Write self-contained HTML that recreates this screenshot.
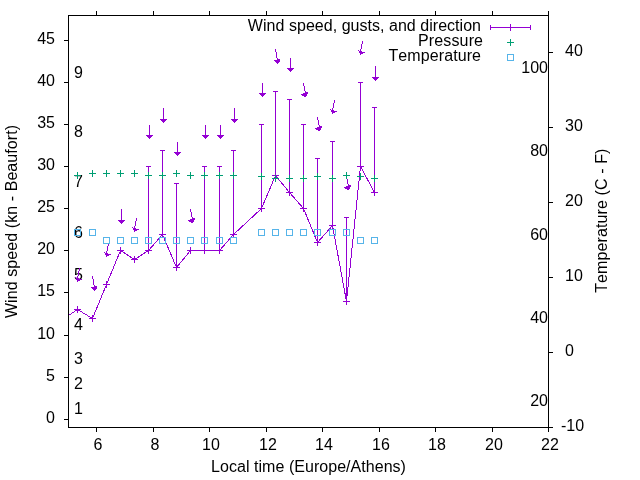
<!DOCTYPE html>
<html><head><meta charset="utf-8"><style>
html,body{margin:0;padding:0;background:#fff;overflow:hidden;}
svg{display:block;will-change:transform;}
text{font-family:"Liberation Sans",sans-serif;font-size:16px;fill:#000;font-kerning:none;}
</style></head><body>
<svg width="640" height="480" viewBox="0 0 640 480" shape-rendering="crispEdges">
<rect width="640" height="480" fill="#fff"/>
<defs><clipPath id="pa"><rect x="68" y="15" width="481" height="413"/></clipPath></defs>
<g><text x="55" y="422.5" text-anchor="end" >0</text><text x="55" y="380.5" text-anchor="end" >5</text><text x="55" y="338.5" text-anchor="end" >10</text><text x="55" y="295.5" text-anchor="end" >15</text><text x="55" y="253.5" text-anchor="end" >20</text><text x="55" y="211.5" text-anchor="end" >25</text><text x="55" y="169.5" text-anchor="end" >30</text><text x="55" y="127.5" text-anchor="end" >35</text><text x="55" y="85.5" text-anchor="end" >40</text><text x="55" y="43.5" text-anchor="end" >45</text><text x="98" y="450" text-anchor="middle" >6</text><text x="155" y="450" text-anchor="middle" >8</text><text x="211" y="450" text-anchor="middle" >10</text><text x="268" y="450" text-anchor="middle" >12</text><text x="324" y="450" text-anchor="middle" >14</text><text x="381" y="450" text-anchor="middle" >16</text><text x="437" y="450" text-anchor="middle" >18</text><text x="494" y="450" text-anchor="middle" >20</text><text x="550" y="450" text-anchor="middle" >22</text><text x="561" y="430.5" text-anchor="start" >-10</text><text x="565" y="355.5" text-anchor="start" >0</text><text x="565" y="280.5" text-anchor="start" >10</text><text x="565" y="205.5" text-anchor="start" >20</text><text x="565" y="130.5" text-anchor="start" >30</text><text x="565" y="55.5" text-anchor="start" >40</text><text x="74" y="413.5" text-anchor="start" >1</text><text x="74" y="388.5" text-anchor="start" >2</text><text x="74" y="363.5" text-anchor="start" >3</text><text x="74" y="329.5" text-anchor="start" >4</text><text x="74" y="279.5" text-anchor="start" >5</text><text x="74" y="237.5" text-anchor="start" >6</text><text x="74" y="186.5" text-anchor="start" >7</text><text x="74" y="136.5" text-anchor="start" >8</text><text x="74" y="77.5" text-anchor="start" >9</text><text x="548" y="405.5" text-anchor="end" >20</text><text x="548" y="322.5" text-anchor="end" >40</text><text x="548" y="239.5" text-anchor="end" >60</text><text x="548" y="155.5" text-anchor="end" >80</text><text x="548" y="72.5" text-anchor="end" >100</text><text x="211.06" y="472" textLength="194.88" lengthAdjust="spacing">Local time (Europe/Athens)</text><text transform="translate(17,221.5) rotate(-90)" x="-96.6" y="0" textLength="193.2" lengthAdjust="spacing">Wind speed (kn - Beaufort)</text><text transform="translate(607,220.75) rotate(-90)" x="-72.12" y="0" textLength="144.24" lengthAdjust="spacing">Temperature (C - F)</text><text x="247.87" y="30.5" textLength="233.13" lengthAdjust="spacing">Wind speed, gusts, and direction</text><text x="417.98" y="45.5" textLength="65.02" lengthAdjust="spacing">Pressure</text><text x="388.41" y="60.5" textLength="92.59" lengthAdjust="spacing">Temperature</text></g>
<g clip-path="url(#pa)"><polyline points="68.5,315.5 77.5,309.5 92.5,318.5 106.5,284.5 120.5,250.5 134.5,259.5 148.5,250.5 162.5,234.5 176.5,267.5 190.5,250.5 204.5,250.5 219.5,250.5 233.5,234.5 261.5,208.5 275.5,175.5 289.5,192.5 303.5,208.5 317.5,242.5 332.5,225.5 346.5,301.5 360.5,166.5 374.5,192.5" fill="none" stroke="#9400d3" stroke-width="1"/></g>
<g><rect x="490" y="27" width="41" height="1" fill="#9400d3"/><rect x="490" y="25" width="1" height="5" fill="#9400d3"/><rect x="530" y="25" width="1" height="5" fill="#9400d3"/><rect x="507" y="27" width="7" height="1" fill="#9400d3"/><rect x="510" y="24" width="1" height="7" fill="#9400d3"/><rect x="507" y="42" width="7" height="1" fill="#009e73"/><rect x="510" y="39" width="1" height="7" fill="#009e73"/><rect x="507" y="54" width="7" height="1" fill="#56b4e9"/><rect x="507" y="60" width="7" height="1" fill="#56b4e9"/><rect x="507" y="54" width="1" height="7" fill="#56b4e9"/><rect x="513" y="54" width="1" height="7" fill="#56b4e9"/><rect x="74" y="309" width="7" height="1" fill="#9400d3"/><rect x="77" y="306" width="1" height="7" fill="#9400d3"/><rect x="89" y="318" width="7" height="1" fill="#9400d3"/><rect x="92" y="315" width="1" height="7" fill="#9400d3"/><rect x="103" y="284" width="7" height="1" fill="#9400d3"/><rect x="106" y="281" width="1" height="7" fill="#9400d3"/><rect x="117" y="250" width="7" height="1" fill="#9400d3"/><rect x="120" y="247" width="1" height="7" fill="#9400d3"/><rect x="131" y="259" width="7" height="1" fill="#9400d3"/><rect x="134" y="256" width="1" height="7" fill="#9400d3"/><rect x="148" y="166" width="1" height="85" fill="#9400d3"/><rect x="146" y="166" width="5" height="1" fill="#9400d3"/><rect x="145" y="250" width="7" height="1" fill="#9400d3"/><rect x="148" y="247" width="1" height="7" fill="#9400d3"/><rect x="162" y="150" width="1" height="85" fill="#9400d3"/><rect x="160" y="150" width="5" height="1" fill="#9400d3"/><rect x="159" y="234" width="7" height="1" fill="#9400d3"/><rect x="162" y="231" width="1" height="7" fill="#9400d3"/><rect x="176" y="183" width="1" height="85" fill="#9400d3"/><rect x="174" y="183" width="5" height="1" fill="#9400d3"/><rect x="173" y="267" width="7" height="1" fill="#9400d3"/><rect x="176" y="264" width="1" height="7" fill="#9400d3"/><rect x="187" y="250" width="7" height="1" fill="#9400d3"/><rect x="190" y="247" width="1" height="7" fill="#9400d3"/><rect x="204" y="166" width="1" height="85" fill="#9400d3"/><rect x="202" y="166" width="5" height="1" fill="#9400d3"/><rect x="201" y="250" width="7" height="1" fill="#9400d3"/><rect x="204" y="247" width="1" height="7" fill="#9400d3"/><rect x="219" y="166" width="1" height="85" fill="#9400d3"/><rect x="217" y="166" width="5" height="1" fill="#9400d3"/><rect x="216" y="250" width="7" height="1" fill="#9400d3"/><rect x="219" y="247" width="1" height="7" fill="#9400d3"/><rect x="233" y="150" width="1" height="85" fill="#9400d3"/><rect x="231" y="150" width="5" height="1" fill="#9400d3"/><rect x="230" y="234" width="7" height="1" fill="#9400d3"/><rect x="233" y="231" width="1" height="7" fill="#9400d3"/><rect x="261" y="124" width="1" height="85" fill="#9400d3"/><rect x="259" y="124" width="5" height="1" fill="#9400d3"/><rect x="258" y="208" width="7" height="1" fill="#9400d3"/><rect x="261" y="205" width="1" height="7" fill="#9400d3"/><rect x="275" y="91" width="1" height="85" fill="#9400d3"/><rect x="273" y="91" width="5" height="1" fill="#9400d3"/><rect x="272" y="175" width="7" height="1" fill="#9400d3"/><rect x="275" y="172" width="1" height="7" fill="#9400d3"/><rect x="289" y="99" width="1" height="94" fill="#9400d3"/><rect x="287" y="99" width="5" height="1" fill="#9400d3"/><rect x="286" y="192" width="7" height="1" fill="#9400d3"/><rect x="289" y="189" width="1" height="7" fill="#9400d3"/><rect x="303" y="124" width="1" height="85" fill="#9400d3"/><rect x="301" y="124" width="5" height="1" fill="#9400d3"/><rect x="300" y="208" width="7" height="1" fill="#9400d3"/><rect x="303" y="205" width="1" height="7" fill="#9400d3"/><rect x="317" y="158" width="1" height="85" fill="#9400d3"/><rect x="315" y="158" width="5" height="1" fill="#9400d3"/><rect x="314" y="242" width="7" height="1" fill="#9400d3"/><rect x="317" y="239" width="1" height="7" fill="#9400d3"/><rect x="332" y="141" width="1" height="85" fill="#9400d3"/><rect x="330" y="141" width="5" height="1" fill="#9400d3"/><rect x="329" y="225" width="7" height="1" fill="#9400d3"/><rect x="332" y="222" width="1" height="7" fill="#9400d3"/><rect x="346" y="217" width="1" height="85" fill="#9400d3"/><rect x="344" y="217" width="5" height="1" fill="#9400d3"/><rect x="343" y="301" width="7" height="1" fill="#9400d3"/><rect x="346" y="298" width="1" height="7" fill="#9400d3"/><rect x="360" y="82" width="1" height="85" fill="#9400d3"/><rect x="358" y="82" width="5" height="1" fill="#9400d3"/><rect x="357" y="166" width="7" height="1" fill="#9400d3"/><rect x="360" y="163" width="1" height="7" fill="#9400d3"/><rect x="374" y="107" width="1" height="86" fill="#9400d3"/><rect x="372" y="107" width="5" height="1" fill="#9400d3"/><rect x="371" y="192" width="7" height="1" fill="#9400d3"/><rect x="374" y="189" width="1" height="7" fill="#9400d3"/><rect x="79" y="268" width="1" height="1" fill="#9400d3"/><rect x="79" y="269" width="1" height="1" fill="#9400d3"/><rect x="79" y="270" width="1" height="1" fill="#9400d3"/><rect x="78" y="271" width="1" height="1" fill="#9400d3"/><rect x="78" y="272" width="1" height="1" fill="#9400d3"/><rect x="78" y="273" width="1" height="1" fill="#9400d3"/><rect x="78" y="274" width="1" height="1" fill="#9400d3"/><rect x="78" y="275" width="1" height="1" fill="#9400d3"/><rect x="77" y="276" width="1" height="1" fill="#9400d3"/><rect x="77" y="277" width="1" height="1" fill="#9400d3"/><rect x="75" y="277" width="1" height="1" fill="#9400d3"/><rect x="76" y="278" width="3" height="1" fill="#9400d3"/><rect x="76" y="279" width="6" height="1" fill="#9400d3"/><rect x="77" y="280" width="3" height="1" fill="#9400d3"/><rect x="77" y="281" width="1" height="1" fill="#9400d3"/><rect x="92" y="276" width="1" height="1" fill="#9400d3"/><rect x="92" y="277" width="1" height="1" fill="#9400d3"/><rect x="92" y="278" width="1" height="1" fill="#9400d3"/><rect x="93" y="279" width="1" height="1" fill="#9400d3"/><rect x="93" y="280" width="1" height="1" fill="#9400d3"/><rect x="93" y="281" width="1" height="1" fill="#9400d3"/><rect x="93" y="282" width="1" height="1" fill="#9400d3"/><rect x="93" y="283" width="1" height="1" fill="#9400d3"/><rect x="93" y="284" width="1" height="1" fill="#9400d3"/><rect x="94" y="285" width="1" height="1" fill="#9400d3"/><rect x="94" y="286" width="3" height="1" fill="#9400d3"/><rect x="91" y="287" width="6" height="1" fill="#9400d3"/><rect x="92" y="288" width="5" height="1" fill="#9400d3"/><rect x="93" y="289" width="3" height="1" fill="#9400d3"/><rect x="94" y="290" width="1" height="1" fill="#9400d3"/><rect x="108" y="243" width="1" height="1" fill="#9400d3"/><rect x="108" y="244" width="1" height="1" fill="#9400d3"/><rect x="108" y="245" width="1" height="1" fill="#9400d3"/><rect x="107" y="246" width="1" height="1" fill="#9400d3"/><rect x="107" y="247" width="1" height="1" fill="#9400d3"/><rect x="107" y="248" width="1" height="1" fill="#9400d3"/><rect x="107" y="249" width="1" height="1" fill="#9400d3"/><rect x="107" y="250" width="1" height="1" fill="#9400d3"/><rect x="106" y="251" width="1" height="1" fill="#9400d3"/><rect x="106" y="252" width="1" height="1" fill="#9400d3"/><rect x="104" y="252" width="1" height="1" fill="#9400d3"/><rect x="105" y="253" width="3" height="1" fill="#9400d3"/><rect x="105" y="254" width="6" height="1" fill="#9400d3"/><rect x="106" y="255" width="3" height="1" fill="#9400d3"/><rect x="106" y="256" width="1" height="1" fill="#9400d3"/><rect x="121" y="209" width="1" height="1" fill="#9400d3"/><rect x="121" y="210" width="1" height="1" fill="#9400d3"/><rect x="121" y="211" width="1" height="1" fill="#9400d3"/><rect x="121" y="212" width="1" height="1" fill="#9400d3"/><rect x="121" y="213" width="1" height="1" fill="#9400d3"/><rect x="121" y="214" width="1" height="1" fill="#9400d3"/><rect x="121" y="215" width="1" height="1" fill="#9400d3"/><rect x="121" y="216" width="1" height="1" fill="#9400d3"/><rect x="121" y="217" width="1" height="1" fill="#9400d3"/><rect x="121" y="218" width="1" height="1" fill="#9400d3"/><rect x="121" y="219" width="1" height="1" fill="#9400d3"/><rect x="118" y="220" width="7" height="1" fill="#9400d3"/><rect x="119" y="221" width="5" height="1" fill="#9400d3"/><rect x="120" y="222" width="3" height="1" fill="#9400d3"/><rect x="121" y="223" width="1" height="1" fill="#9400d3"/><rect x="136" y="218" width="1" height="1" fill="#9400d3"/><rect x="136" y="219" width="1" height="1" fill="#9400d3"/><rect x="136" y="220" width="1" height="1" fill="#9400d3"/><rect x="135" y="221" width="1" height="1" fill="#9400d3"/><rect x="135" y="222" width="1" height="1" fill="#9400d3"/><rect x="135" y="223" width="1" height="1" fill="#9400d3"/><rect x="135" y="224" width="1" height="1" fill="#9400d3"/><rect x="135" y="225" width="1" height="1" fill="#9400d3"/><rect x="134" y="226" width="1" height="1" fill="#9400d3"/><rect x="134" y="227" width="1" height="1" fill="#9400d3"/><rect x="132" y="227" width="1" height="1" fill="#9400d3"/><rect x="133" y="228" width="3" height="1" fill="#9400d3"/><rect x="133" y="229" width="6" height="1" fill="#9400d3"/><rect x="134" y="230" width="3" height="1" fill="#9400d3"/><rect x="134" y="231" width="1" height="1" fill="#9400d3"/><rect x="149" y="125" width="1" height="1" fill="#9400d3"/><rect x="149" y="126" width="1" height="1" fill="#9400d3"/><rect x="149" y="127" width="1" height="1" fill="#9400d3"/><rect x="149" y="128" width="1" height="1" fill="#9400d3"/><rect x="149" y="129" width="1" height="1" fill="#9400d3"/><rect x="149" y="130" width="1" height="1" fill="#9400d3"/><rect x="149" y="131" width="1" height="1" fill="#9400d3"/><rect x="149" y="132" width="1" height="1" fill="#9400d3"/><rect x="149" y="133" width="1" height="1" fill="#9400d3"/><rect x="149" y="134" width="1" height="1" fill="#9400d3"/><rect x="146" y="135" width="7" height="1" fill="#9400d3"/><rect x="147" y="136" width="5" height="1" fill="#9400d3"/><rect x="148" y="137" width="3" height="1" fill="#9400d3"/><rect x="149" y="138" width="1" height="1" fill="#9400d3"/><rect x="163" y="108" width="1" height="1" fill="#9400d3"/><rect x="163" y="109" width="1" height="1" fill="#9400d3"/><rect x="163" y="110" width="1" height="1" fill="#9400d3"/><rect x="163" y="111" width="1" height="1" fill="#9400d3"/><rect x="163" y="112" width="1" height="1" fill="#9400d3"/><rect x="163" y="113" width="1" height="1" fill="#9400d3"/><rect x="163" y="114" width="1" height="1" fill="#9400d3"/><rect x="163" y="115" width="1" height="1" fill="#9400d3"/><rect x="163" y="116" width="1" height="1" fill="#9400d3"/><rect x="163" y="117" width="1" height="1" fill="#9400d3"/><rect x="163" y="118" width="1" height="1" fill="#9400d3"/><rect x="160" y="119" width="7" height="1" fill="#9400d3"/><rect x="161" y="120" width="5" height="1" fill="#9400d3"/><rect x="162" y="121" width="3" height="1" fill="#9400d3"/><rect x="163" y="122" width="1" height="1" fill="#9400d3"/><rect x="177" y="142" width="1" height="1" fill="#9400d3"/><rect x="177" y="143" width="1" height="1" fill="#9400d3"/><rect x="177" y="144" width="1" height="1" fill="#9400d3"/><rect x="177" y="145" width="1" height="1" fill="#9400d3"/><rect x="177" y="146" width="1" height="1" fill="#9400d3"/><rect x="177" y="147" width="1" height="1" fill="#9400d3"/><rect x="177" y="148" width="1" height="1" fill="#9400d3"/><rect x="177" y="149" width="1" height="1" fill="#9400d3"/><rect x="177" y="150" width="1" height="1" fill="#9400d3"/><rect x="177" y="151" width="1" height="1" fill="#9400d3"/><rect x="174" y="152" width="7" height="1" fill="#9400d3"/><rect x="175" y="153" width="5" height="1" fill="#9400d3"/><rect x="176" y="154" width="3" height="1" fill="#9400d3"/><rect x="177" y="155" width="1" height="1" fill="#9400d3"/><rect x="190" y="209" width="1" height="1" fill="#9400d3"/><rect x="190" y="210" width="1" height="1" fill="#9400d3"/><rect x="190" y="211" width="1" height="1" fill="#9400d3"/><rect x="191" y="212" width="1" height="1" fill="#9400d3"/><rect x="191" y="213" width="1" height="1" fill="#9400d3"/><rect x="191" y="214" width="1" height="1" fill="#9400d3"/><rect x="191" y="215" width="1" height="1" fill="#9400d3"/><rect x="191" y="216" width="1" height="1" fill="#9400d3"/><rect x="192" y="217" width="1" height="1" fill="#9400d3"/><rect x="192" y="218" width="3" height="1" fill="#9400d3"/><rect x="190" y="219" width="5" height="1" fill="#9400d3"/><rect x="188" y="220" width="6" height="1" fill="#9400d3"/><rect x="189" y="221" width="5" height="1" fill="#9400d3"/><rect x="191" y="222" width="2" height="1" fill="#9400d3"/><rect x="205" y="125" width="1" height="1" fill="#9400d3"/><rect x="205" y="126" width="1" height="1" fill="#9400d3"/><rect x="205" y="127" width="1" height="1" fill="#9400d3"/><rect x="205" y="128" width="1" height="1" fill="#9400d3"/><rect x="205" y="129" width="1" height="1" fill="#9400d3"/><rect x="205" y="130" width="1" height="1" fill="#9400d3"/><rect x="205" y="131" width="1" height="1" fill="#9400d3"/><rect x="205" y="132" width="1" height="1" fill="#9400d3"/><rect x="205" y="133" width="1" height="1" fill="#9400d3"/><rect x="205" y="134" width="1" height="1" fill="#9400d3"/><rect x="202" y="135" width="7" height="1" fill="#9400d3"/><rect x="203" y="136" width="5" height="1" fill="#9400d3"/><rect x="204" y="137" width="3" height="1" fill="#9400d3"/><rect x="205" y="138" width="1" height="1" fill="#9400d3"/><rect x="220" y="125" width="1" height="1" fill="#9400d3"/><rect x="220" y="126" width="1" height="1" fill="#9400d3"/><rect x="220" y="127" width="1" height="1" fill="#9400d3"/><rect x="220" y="128" width="1" height="1" fill="#9400d3"/><rect x="220" y="129" width="1" height="1" fill="#9400d3"/><rect x="220" y="130" width="1" height="1" fill="#9400d3"/><rect x="220" y="131" width="1" height="1" fill="#9400d3"/><rect x="220" y="132" width="1" height="1" fill="#9400d3"/><rect x="220" y="133" width="1" height="1" fill="#9400d3"/><rect x="220" y="134" width="1" height="1" fill="#9400d3"/><rect x="217" y="135" width="7" height="1" fill="#9400d3"/><rect x="218" y="136" width="5" height="1" fill="#9400d3"/><rect x="219" y="137" width="3" height="1" fill="#9400d3"/><rect x="220" y="138" width="1" height="1" fill="#9400d3"/><rect x="234" y="108" width="1" height="1" fill="#9400d3"/><rect x="234" y="109" width="1" height="1" fill="#9400d3"/><rect x="234" y="110" width="1" height="1" fill="#9400d3"/><rect x="234" y="111" width="1" height="1" fill="#9400d3"/><rect x="234" y="112" width="1" height="1" fill="#9400d3"/><rect x="234" y="113" width="1" height="1" fill="#9400d3"/><rect x="234" y="114" width="1" height="1" fill="#9400d3"/><rect x="234" y="115" width="1" height="1" fill="#9400d3"/><rect x="234" y="116" width="1" height="1" fill="#9400d3"/><rect x="234" y="117" width="1" height="1" fill="#9400d3"/><rect x="234" y="118" width="1" height="1" fill="#9400d3"/><rect x="231" y="119" width="7" height="1" fill="#9400d3"/><rect x="232" y="120" width="5" height="1" fill="#9400d3"/><rect x="233" y="121" width="3" height="1" fill="#9400d3"/><rect x="234" y="122" width="1" height="1" fill="#9400d3"/><rect x="262" y="83" width="1" height="1" fill="#9400d3"/><rect x="262" y="84" width="1" height="1" fill="#9400d3"/><rect x="262" y="85" width="1" height="1" fill="#9400d3"/><rect x="262" y="86" width="1" height="1" fill="#9400d3"/><rect x="262" y="87" width="1" height="1" fill="#9400d3"/><rect x="262" y="88" width="1" height="1" fill="#9400d3"/><rect x="262" y="89" width="1" height="1" fill="#9400d3"/><rect x="262" y="90" width="1" height="1" fill="#9400d3"/><rect x="262" y="91" width="1" height="1" fill="#9400d3"/><rect x="262" y="92" width="1" height="1" fill="#9400d3"/><rect x="259" y="93" width="7" height="1" fill="#9400d3"/><rect x="260" y="94" width="5" height="1" fill="#9400d3"/><rect x="261" y="95" width="3" height="1" fill="#9400d3"/><rect x="262" y="96" width="1" height="1" fill="#9400d3"/><rect x="275" y="49" width="1" height="1" fill="#9400d3"/><rect x="275" y="50" width="1" height="1" fill="#9400d3"/><rect x="275" y="51" width="1" height="1" fill="#9400d3"/><rect x="276" y="52" width="1" height="1" fill="#9400d3"/><rect x="276" y="53" width="1" height="1" fill="#9400d3"/><rect x="276" y="54" width="1" height="1" fill="#9400d3"/><rect x="276" y="55" width="1" height="1" fill="#9400d3"/><rect x="276" y="56" width="1" height="1" fill="#9400d3"/><rect x="276" y="57" width="1" height="1" fill="#9400d3"/><rect x="277" y="58" width="1" height="1" fill="#9400d3"/><rect x="277" y="59" width="3" height="1" fill="#9400d3"/><rect x="274" y="60" width="6" height="1" fill="#9400d3"/><rect x="275" y="61" width="5" height="1" fill="#9400d3"/><rect x="276" y="62" width="3" height="1" fill="#9400d3"/><rect x="277" y="63" width="1" height="1" fill="#9400d3"/><rect x="290" y="58" width="1" height="1" fill="#9400d3"/><rect x="290" y="59" width="1" height="1" fill="#9400d3"/><rect x="290" y="60" width="1" height="1" fill="#9400d3"/><rect x="290" y="61" width="1" height="1" fill="#9400d3"/><rect x="290" y="62" width="1" height="1" fill="#9400d3"/><rect x="290" y="63" width="1" height="1" fill="#9400d3"/><rect x="290" y="64" width="1" height="1" fill="#9400d3"/><rect x="290" y="65" width="1" height="1" fill="#9400d3"/><rect x="290" y="66" width="1" height="1" fill="#9400d3"/><rect x="290" y="67" width="1" height="1" fill="#9400d3"/><rect x="287" y="68" width="7" height="1" fill="#9400d3"/><rect x="288" y="69" width="5" height="1" fill="#9400d3"/><rect x="289" y="70" width="3" height="1" fill="#9400d3"/><rect x="290" y="71" width="1" height="1" fill="#9400d3"/><rect x="303" y="83" width="1" height="1" fill="#9400d3"/><rect x="303" y="84" width="1" height="1" fill="#9400d3"/><rect x="303" y="85" width="1" height="1" fill="#9400d3"/><rect x="304" y="86" width="1" height="1" fill="#9400d3"/><rect x="304" y="87" width="1" height="1" fill="#9400d3"/><rect x="304" y="88" width="1" height="1" fill="#9400d3"/><rect x="304" y="89" width="1" height="1" fill="#9400d3"/><rect x="304" y="90" width="1" height="1" fill="#9400d3"/><rect x="305" y="91" width="1" height="1" fill="#9400d3"/><rect x="305" y="92" width="3" height="1" fill="#9400d3"/><rect x="303" y="93" width="5" height="1" fill="#9400d3"/><rect x="301" y="94" width="6" height="1" fill="#9400d3"/><rect x="302" y="95" width="5" height="1" fill="#9400d3"/><rect x="304" y="96" width="2" height="1" fill="#9400d3"/><rect x="317" y="117" width="1" height="1" fill="#9400d3"/><rect x="317" y="118" width="1" height="1" fill="#9400d3"/><rect x="317" y="119" width="1" height="1" fill="#9400d3"/><rect x="318" y="120" width="1" height="1" fill="#9400d3"/><rect x="318" y="121" width="1" height="1" fill="#9400d3"/><rect x="318" y="122" width="1" height="1" fill="#9400d3"/><rect x="318" y="123" width="1" height="1" fill="#9400d3"/><rect x="318" y="124" width="1" height="1" fill="#9400d3"/><rect x="319" y="125" width="1" height="1" fill="#9400d3"/><rect x="319" y="126" width="3" height="1" fill="#9400d3"/><rect x="317" y="127" width="5" height="1" fill="#9400d3"/><rect x="315" y="128" width="6" height="1" fill="#9400d3"/><rect x="316" y="129" width="5" height="1" fill="#9400d3"/><rect x="318" y="130" width="2" height="1" fill="#9400d3"/><rect x="334" y="100" width="1" height="1" fill="#9400d3"/><rect x="334" y="101" width="1" height="1" fill="#9400d3"/><rect x="334" y="102" width="1" height="1" fill="#9400d3"/><rect x="333" y="103" width="1" height="1" fill="#9400d3"/><rect x="333" y="104" width="1" height="1" fill="#9400d3"/><rect x="333" y="105" width="1" height="1" fill="#9400d3"/><rect x="333" y="106" width="1" height="1" fill="#9400d3"/><rect x="333" y="107" width="1" height="1" fill="#9400d3"/><rect x="332" y="108" width="1" height="1" fill="#9400d3"/><rect x="332" y="109" width="1" height="1" fill="#9400d3"/><rect x="330" y="109" width="1" height="1" fill="#9400d3"/><rect x="331" y="110" width="3" height="1" fill="#9400d3"/><rect x="331" y="111" width="6" height="1" fill="#9400d3"/><rect x="332" y="112" width="3" height="1" fill="#9400d3"/><rect x="332" y="113" width="1" height="1" fill="#9400d3"/><rect x="346" y="176" width="1" height="1" fill="#9400d3"/><rect x="346" y="177" width="1" height="1" fill="#9400d3"/><rect x="346" y="178" width="1" height="1" fill="#9400d3"/><rect x="347" y="179" width="1" height="1" fill="#9400d3"/><rect x="347" y="180" width="1" height="1" fill="#9400d3"/><rect x="347" y="181" width="1" height="1" fill="#9400d3"/><rect x="347" y="182" width="1" height="1" fill="#9400d3"/><rect x="347" y="183" width="1" height="1" fill="#9400d3"/><rect x="348" y="184" width="1" height="1" fill="#9400d3"/><rect x="348" y="185" width="3" height="1" fill="#9400d3"/><rect x="346" y="186" width="5" height="1" fill="#9400d3"/><rect x="344" y="187" width="6" height="1" fill="#9400d3"/><rect x="345" y="188" width="5" height="1" fill="#9400d3"/><rect x="347" y="189" width="2" height="1" fill="#9400d3"/><rect x="362" y="41" width="1" height="1" fill="#9400d3"/><rect x="362" y="42" width="1" height="1" fill="#9400d3"/><rect x="362" y="43" width="1" height="1" fill="#9400d3"/><rect x="361" y="44" width="1" height="1" fill="#9400d3"/><rect x="361" y="45" width="1" height="1" fill="#9400d3"/><rect x="361" y="46" width="1" height="1" fill="#9400d3"/><rect x="361" y="47" width="1" height="1" fill="#9400d3"/><rect x="361" y="48" width="1" height="1" fill="#9400d3"/><rect x="360" y="49" width="1" height="1" fill="#9400d3"/><rect x="360" y="50" width="1" height="1" fill="#9400d3"/><rect x="358" y="50" width="1" height="1" fill="#9400d3"/><rect x="359" y="51" width="3" height="1" fill="#9400d3"/><rect x="359" y="52" width="6" height="1" fill="#9400d3"/><rect x="360" y="53" width="3" height="1" fill="#9400d3"/><rect x="360" y="54" width="1" height="1" fill="#9400d3"/><rect x="375" y="66" width="1" height="1" fill="#9400d3"/><rect x="375" y="67" width="1" height="1" fill="#9400d3"/><rect x="375" y="68" width="1" height="1" fill="#9400d3"/><rect x="375" y="69" width="1" height="1" fill="#9400d3"/><rect x="375" y="70" width="1" height="1" fill="#9400d3"/><rect x="375" y="71" width="1" height="1" fill="#9400d3"/><rect x="375" y="72" width="1" height="1" fill="#9400d3"/><rect x="375" y="73" width="1" height="1" fill="#9400d3"/><rect x="375" y="74" width="1" height="1" fill="#9400d3"/><rect x="375" y="75" width="1" height="1" fill="#9400d3"/><rect x="375" y="76" width="1" height="1" fill="#9400d3"/><rect x="372" y="77" width="7" height="1" fill="#9400d3"/><rect x="373" y="78" width="5" height="1" fill="#9400d3"/><rect x="374" y="79" width="3" height="1" fill="#9400d3"/><rect x="375" y="80" width="1" height="1" fill="#9400d3"/><rect x="74" y="175" width="7" height="1" fill="#009e73"/><rect x="77" y="172" width="1" height="7" fill="#009e73"/><rect x="89" y="173" width="7" height="1" fill="#009e73"/><rect x="92" y="170" width="1" height="7" fill="#009e73"/><rect x="103" y="173" width="7" height="1" fill="#009e73"/><rect x="106" y="170" width="1" height="7" fill="#009e73"/><rect x="117" y="173" width="7" height="1" fill="#009e73"/><rect x="120" y="170" width="1" height="7" fill="#009e73"/><rect x="131" y="173" width="7" height="1" fill="#009e73"/><rect x="134" y="170" width="1" height="7" fill="#009e73"/><rect x="145" y="175" width="7" height="1" fill="#009e73"/><rect x="148" y="172" width="1" height="7" fill="#009e73"/><rect x="159" y="175" width="7" height="1" fill="#009e73"/><rect x="162" y="172" width="1" height="7" fill="#009e73"/><rect x="173" y="173" width="7" height="1" fill="#009e73"/><rect x="176" y="170" width="1" height="7" fill="#009e73"/><rect x="187" y="175" width="7" height="1" fill="#009e73"/><rect x="190" y="172" width="1" height="7" fill="#009e73"/><rect x="201" y="175" width="7" height="1" fill="#009e73"/><rect x="204" y="172" width="1" height="7" fill="#009e73"/><rect x="216" y="175" width="7" height="1" fill="#009e73"/><rect x="219" y="172" width="1" height="7" fill="#009e73"/><rect x="230" y="175" width="7" height="1" fill="#009e73"/><rect x="233" y="172" width="1" height="7" fill="#009e73"/><rect x="258" y="176" width="7" height="1" fill="#009e73"/><rect x="261" y="173" width="1" height="7" fill="#009e73"/><rect x="272" y="178" width="7" height="1" fill="#009e73"/><rect x="275" y="175" width="1" height="7" fill="#009e73"/><rect x="286" y="178" width="7" height="1" fill="#009e73"/><rect x="289" y="175" width="1" height="7" fill="#009e73"/><rect x="300" y="178" width="7" height="1" fill="#009e73"/><rect x="303" y="175" width="1" height="7" fill="#009e73"/><rect x="314" y="176" width="7" height="1" fill="#009e73"/><rect x="317" y="173" width="1" height="7" fill="#009e73"/><rect x="329" y="178" width="7" height="1" fill="#009e73"/><rect x="332" y="175" width="1" height="7" fill="#009e73"/><rect x="343" y="175" width="7" height="1" fill="#009e73"/><rect x="346" y="172" width="1" height="7" fill="#009e73"/><rect x="357" y="176" width="7" height="1" fill="#009e73"/><rect x="360" y="173" width="1" height="7" fill="#009e73"/><rect x="371" y="178" width="7" height="1" fill="#009e73"/><rect x="374" y="175" width="1" height="7" fill="#009e73"/><rect x="74" y="229" width="7" height="1" fill="#56b4e9"/><rect x="74" y="235" width="7" height="1" fill="#56b4e9"/><rect x="74" y="229" width="1" height="7" fill="#56b4e9"/><rect x="80" y="229" width="1" height="7" fill="#56b4e9"/><rect x="89" y="229" width="7" height="1" fill="#56b4e9"/><rect x="89" y="235" width="7" height="1" fill="#56b4e9"/><rect x="89" y="229" width="1" height="7" fill="#56b4e9"/><rect x="95" y="229" width="1" height="7" fill="#56b4e9"/><rect x="103" y="237" width="7" height="1" fill="#56b4e9"/><rect x="103" y="243" width="7" height="1" fill="#56b4e9"/><rect x="103" y="237" width="1" height="7" fill="#56b4e9"/><rect x="109" y="237" width="1" height="7" fill="#56b4e9"/><rect x="117" y="237" width="7" height="1" fill="#56b4e9"/><rect x="117" y="243" width="7" height="1" fill="#56b4e9"/><rect x="117" y="237" width="1" height="7" fill="#56b4e9"/><rect x="123" y="237" width="1" height="7" fill="#56b4e9"/><rect x="131" y="237" width="7" height="1" fill="#56b4e9"/><rect x="131" y="243" width="7" height="1" fill="#56b4e9"/><rect x="131" y="237" width="1" height="7" fill="#56b4e9"/><rect x="137" y="237" width="1" height="7" fill="#56b4e9"/><rect x="145" y="237" width="7" height="1" fill="#56b4e9"/><rect x="145" y="243" width="7" height="1" fill="#56b4e9"/><rect x="145" y="237" width="1" height="7" fill="#56b4e9"/><rect x="151" y="237" width="1" height="7" fill="#56b4e9"/><rect x="159" y="237" width="7" height="1" fill="#56b4e9"/><rect x="159" y="243" width="7" height="1" fill="#56b4e9"/><rect x="159" y="237" width="1" height="7" fill="#56b4e9"/><rect x="165" y="237" width="1" height="7" fill="#56b4e9"/><rect x="173" y="237" width="7" height="1" fill="#56b4e9"/><rect x="173" y="243" width="7" height="1" fill="#56b4e9"/><rect x="173" y="237" width="1" height="7" fill="#56b4e9"/><rect x="179" y="237" width="1" height="7" fill="#56b4e9"/><rect x="187" y="237" width="7" height="1" fill="#56b4e9"/><rect x="187" y="243" width="7" height="1" fill="#56b4e9"/><rect x="187" y="237" width="1" height="7" fill="#56b4e9"/><rect x="193" y="237" width="1" height="7" fill="#56b4e9"/><rect x="201" y="237" width="7" height="1" fill="#56b4e9"/><rect x="201" y="243" width="7" height="1" fill="#56b4e9"/><rect x="201" y="237" width="1" height="7" fill="#56b4e9"/><rect x="207" y="237" width="1" height="7" fill="#56b4e9"/><rect x="216" y="237" width="7" height="1" fill="#56b4e9"/><rect x="216" y="243" width="7" height="1" fill="#56b4e9"/><rect x="216" y="237" width="1" height="7" fill="#56b4e9"/><rect x="222" y="237" width="1" height="7" fill="#56b4e9"/><rect x="230" y="237" width="7" height="1" fill="#56b4e9"/><rect x="230" y="243" width="7" height="1" fill="#56b4e9"/><rect x="230" y="237" width="1" height="7" fill="#56b4e9"/><rect x="236" y="237" width="1" height="7" fill="#56b4e9"/><rect x="258" y="229" width="7" height="1" fill="#56b4e9"/><rect x="258" y="235" width="7" height="1" fill="#56b4e9"/><rect x="258" y="229" width="1" height="7" fill="#56b4e9"/><rect x="264" y="229" width="1" height="7" fill="#56b4e9"/><rect x="272" y="229" width="7" height="1" fill="#56b4e9"/><rect x="272" y="235" width="7" height="1" fill="#56b4e9"/><rect x="272" y="229" width="1" height="7" fill="#56b4e9"/><rect x="278" y="229" width="1" height="7" fill="#56b4e9"/><rect x="286" y="229" width="7" height="1" fill="#56b4e9"/><rect x="286" y="235" width="7" height="1" fill="#56b4e9"/><rect x="286" y="229" width="1" height="7" fill="#56b4e9"/><rect x="292" y="229" width="1" height="7" fill="#56b4e9"/><rect x="300" y="229" width="7" height="1" fill="#56b4e9"/><rect x="300" y="235" width="7" height="1" fill="#56b4e9"/><rect x="300" y="229" width="1" height="7" fill="#56b4e9"/><rect x="306" y="229" width="1" height="7" fill="#56b4e9"/><rect x="314" y="229" width="7" height="1" fill="#56b4e9"/><rect x="314" y="235" width="7" height="1" fill="#56b4e9"/><rect x="314" y="229" width="1" height="7" fill="#56b4e9"/><rect x="320" y="229" width="1" height="7" fill="#56b4e9"/><rect x="329" y="229" width="7" height="1" fill="#56b4e9"/><rect x="329" y="235" width="7" height="1" fill="#56b4e9"/><rect x="329" y="229" width="1" height="7" fill="#56b4e9"/><rect x="335" y="229" width="1" height="7" fill="#56b4e9"/><rect x="343" y="229" width="7" height="1" fill="#56b4e9"/><rect x="343" y="235" width="7" height="1" fill="#56b4e9"/><rect x="343" y="229" width="1" height="7" fill="#56b4e9"/><rect x="349" y="229" width="1" height="7" fill="#56b4e9"/><rect x="357" y="237" width="7" height="1" fill="#56b4e9"/><rect x="357" y="243" width="7" height="1" fill="#56b4e9"/><rect x="357" y="237" width="1" height="7" fill="#56b4e9"/><rect x="363" y="237" width="1" height="7" fill="#56b4e9"/><rect x="371" y="237" width="7" height="1" fill="#56b4e9"/><rect x="371" y="243" width="7" height="1" fill="#56b4e9"/><rect x="371" y="237" width="1" height="7" fill="#56b4e9"/><rect x="377" y="237" width="1" height="7" fill="#56b4e9"/></g>
<g><rect x="68" y="15" width="481" height="1" fill="#000"/><rect x="68" y="427" width="481" height="1" fill="#000"/><rect x="68" y="15" width="1" height="413" fill="#000"/><rect x="548" y="15" width="1" height="413" fill="#000"/><rect x="64" y="419" width="4" height="1" fill="#000"/><rect x="64" y="377" width="4" height="1" fill="#000"/><rect x="64" y="335" width="4" height="1" fill="#000"/><rect x="64" y="292" width="4" height="1" fill="#000"/><rect x="64" y="250" width="4" height="1" fill="#000"/><rect x="64" y="208" width="4" height="1" fill="#000"/><rect x="64" y="166" width="4" height="1" fill="#000"/><rect x="64" y="124" width="4" height="1" fill="#000"/><rect x="64" y="82" width="4" height="1" fill="#000"/><rect x="64" y="40" width="4" height="1" fill="#000"/><rect x="96" y="428" width="1" height="4" fill="#000"/><rect x="96" y="11" width="1" height="4" fill="#000"/><rect x="153" y="428" width="1" height="4" fill="#000"/><rect x="153" y="11" width="1" height="4" fill="#000"/><rect x="209" y="428" width="1" height="4" fill="#000"/><rect x="209" y="11" width="1" height="4" fill="#000"/><rect x="266" y="428" width="1" height="4" fill="#000"/><rect x="266" y="11" width="1" height="4" fill="#000"/><rect x="322" y="428" width="1" height="4" fill="#000"/><rect x="322" y="11" width="1" height="4" fill="#000"/><rect x="379" y="428" width="1" height="4" fill="#000"/><rect x="379" y="11" width="1" height="4" fill="#000"/><rect x="435" y="428" width="1" height="4" fill="#000"/><rect x="435" y="11" width="1" height="4" fill="#000"/><rect x="492" y="428" width="1" height="4" fill="#000"/><rect x="492" y="11" width="1" height="4" fill="#000"/><rect x="548" y="428" width="1" height="4" fill="#000"/><rect x="548" y="11" width="1" height="4" fill="#000"/><rect x="549" y="427" width="4" height="1" fill="#000"/><rect x="549" y="352" width="4" height="1" fill="#000"/><rect x="549" y="277" width="4" height="1" fill="#000"/><rect x="549" y="202" width="4" height="1" fill="#000"/><rect x="549" y="127" width="4" height="1" fill="#000"/><rect x="549" y="52" width="4" height="1" fill="#000"/></g>
</svg>
</body></html>
